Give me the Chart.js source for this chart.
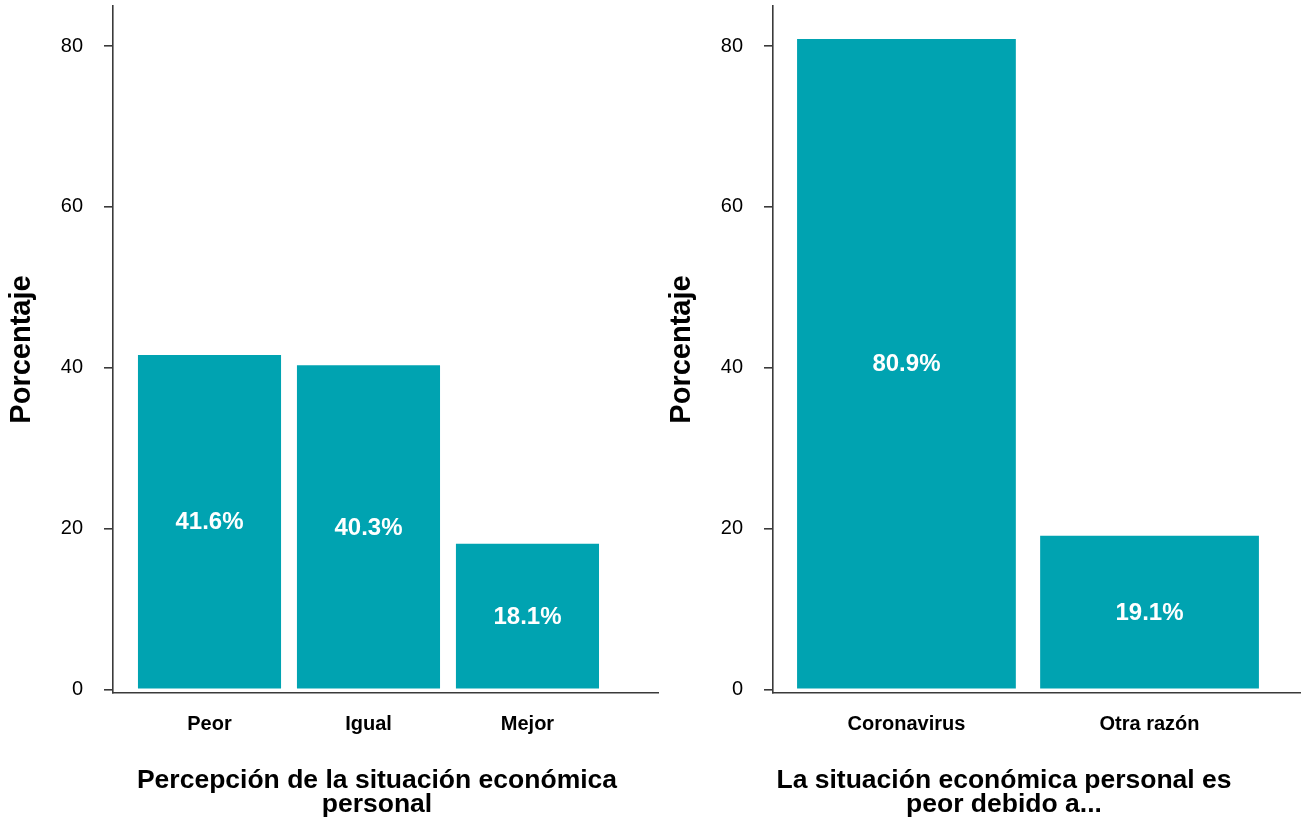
<!DOCTYPE html>
<html>
<head>
<meta charset="utf-8">
<script src="https://cdn.jsdelivr.net/npm/chart.js@4/dist/chart.umd.min.js"></script>
<style>
  html, body { margin: 0; padding: 0; background: #ffffff; }
  body { width: 1302px; height: 819px; position: relative; overflow: hidden; font-family: "Liberation Sans", Arial, sans-serif; }
  canvas { position: absolute; top: 0; }
  .xtitle { position: absolute; top: 767px; width: 600px; text-align: center; font-weight: bold; font-size: 26.5px; line-height: 24px; color: #000; }
</style>
</head>
<body>
<canvas id="c1" width="660" height="819" style="left:0px"></canvas>
<canvas id="c2" width="642" height="819" style="left:660px"></canvas>
<div class="xtitle" style="left:77px">Percepción de la situación económica<br>personal</div>
<div class="xtitle" style="left:704px">La situación económica personal es<br>peor debido a...</div>
<script>
// ---- Data ----
const leftCategories = ["Peor", "Igual", "Mejor"];
const leftValues = [41.6, 40.3, 18.1];
const rightCategories = ["Coronavirus", "Otra razón"];
const rightValues = [80.9, 19.1];
const yTickValues = [0, 20, 40, 60, 80];
const yTitle = "Porcentaje";

const BAR_COLOR = "#00a3b1";
const AXIS_COLOR = "#3a3a3a";
const FONT = "'Liberation Sans', Arial, sans-serif";

const valueLabels = {
  id: "valueLabels",
  afterDatasetsDraw(chart) {
    const ctx = chart.ctx;
    const meta = chart.getDatasetMeta(0);
    const vals = chart.data.datasets[0].data;
    ctx.save();
    ctx.fillStyle = "#ffffff";
    ctx.font = "bold 24px " + FONT;
    ctx.textAlign = "center";
    ctx.textBaseline = "middle";
    meta.data.forEach((bar, i) => {
      const v = vals[i].y;
      ctx.fillText(v.toFixed(1) + "%", bar.x, (bar.y + bar.base) / 2 + 1);
    });
    ctx.restore();
  }
};

function makeChart(id, cats, vals, xMin, xMax, rightPad) {
  const data = cats.map((c, i) => ({ x: i + 1, y: vals[i] }));
  return new Chart(document.getElementById(id), {
    type: "bar",
    data: {
      datasets: [{
        data: data,
        backgroundColor: BAR_COLOR,
        borderWidth: 0,
        barPercentage: 0.9,
        categoryPercentage: 1.0,
        clip: false
      }]
    },
    options: {
      responsive: false,
      animation: false,
      devicePixelRatio: 1,
      layout: { padding: { top: 6, right: rightPad, bottom: 0, left: 0 } },
      plugins: { legend: { display: false }, tooltip: { enabled: false } },
      scales: {
        x: {
          type: "linear",
          offset: false,
          min: xMin,
          max: xMax,
          afterBuildTicks(scale) { scale.ticks = cats.map((c, i) => ({ value: i + 1 })); },
          afterFit(scale) { scale.height = 126; scale.paddingLeft = 0; scale.paddingRight = 0; },
          ticks: {
            autoSkip: false,
            maxRotation: 0,
            padding: 19,
            color: "#000",
            font: { family: FONT, size: 20, weight: "bold" },
            callback: (v) => cats[Math.round(v) - 1] || ""
          },
          grid: { display: true, drawOnChartArea: false, drawTicks: false },
          border: { display: true, color: AXIS_COLOR, width: 1.6 }
        },
        y: {
          type: "linear",
          min: -0.46,
          max: 85.0,
          afterBuildTicks(scale) { scale.ticks = yTickValues.map(v => ({ value: v })); },
          afterFit(scale) { scale.width = 113; scale.paddingTop = 0; scale.paddingBottom = 0; },
          ticks: {
            padding: 21,
            color: "#000",
            font: { family: FONT, size: 20 },
            callback: (v) => String(v)
          },
          grid: { display: true, drawOnChartArea: false, drawTicks: true, tickLength: 9, color: AXIS_COLOR, lineWidth: 1.6 },
          border: { display: true, color: AXIS_COLOR, width: 1.6 },
          title: {
            display: true,
            text: yTitle,
            color: "#000",
            font: { family: FONT, size: 29, weight: "bold" },
            padding: { top: 5, bottom: 0 }
          }
        }
      }
    },
    plugins: [valueLabels]
  });
}

makeChart("c1", leftCategories, leftValues, 0.393, 3.821, 2);
makeChart("c2", rightCategories, rightValues, 0.451, 2.619, 2);
</script>
</body>
</html>
